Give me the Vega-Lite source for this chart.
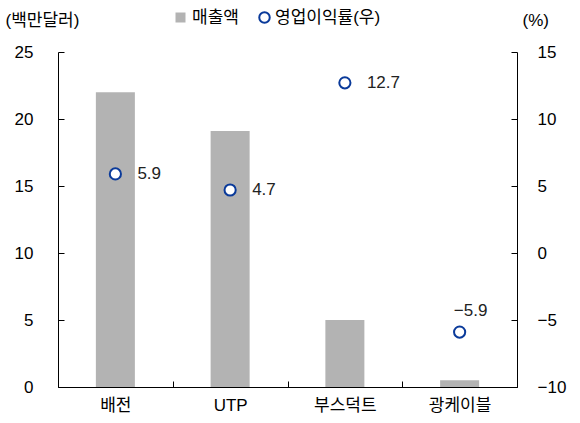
{
  "$schema": "https://vega.github.io/schema/vega-lite/v6.json",
  "width": 459,
  "height": 335,
  "autosize": {"type": "none"},
  "padding": {"left": 58, "top": 52, "right": 63, "bottom": 36},
  "background": "white",
  "config": {
    "view": {"stroke": null},
    "font": "Liberation Sans, Noto Sans CJK KR",
    "axis": {"labelFont": "Liberation Sans, Noto Sans CJK KR", "titleFont": "Liberation Sans, Noto Sans CJK KR", "labelFontSize": 17, "titleFontSize": 17, "titleFontWeight": "normal", "labelColor": "#000", "titleColor": "#000", "domainColor": "#000", "tickColor": "#000", "grid": false},
    "legend": {"labelFont": "Liberation Sans, Noto Sans CJK KR", "labelFontSize": 17, "labelColor": "#000"}
  },
  "data": {"values": [
    {"cat": "배전", "sales": 22, "margin": 5.9},
    {"cat": "UTP", "sales": 19.1, "margin": 4.7},
    {"cat": "부스덕트", "sales": 5, "margin": 12.7},
    {"cat": "광케이블", "sales": 0.5, "margin": -5.9}
  ]},
  "encoding": {
    "x": {"field": "cat", "type": "nominal", "sort": null,
      "scale": {"paddingInner": 0, "paddingOuter": 0},
      "axis": {"title": null, "labelAngle": 0, "tickBand": "extent", "tickSize": -6, "labelPadding": 16, "domainColor": "#000"}}
  },
  "layer": [
    {
      "mark": {"type": "bar", "width": {"band": 0.34}},
      "encoding": {
        "y": {"field": "sales", "type": "quantitative", "scale": {"domain": [0, 25]},
          "axis": {"values": [0, 5, 10, 15, 20, 25], "tickSize": -6, "labelPadding": 31, "title": "(백만달러)", "titleAngle": 0, "titleAlign": "left", "titleBaseline": "middle", "titleX": -53, "titleY": -32}},
        "color": {"datum": "매출액", "scale": {"range": ["#b3b3b3"]},
          "legend": {"title": null, "orient": "none", "legendX": 114, "legendY": -43, "symbolType": "square", "symbolSize": 100, "labelOffset": 3}}
      }
    },
    {
      "encoding": {
        "y": {"field": "margin", "type": "quantitative", "scale": {"domain": [-10, 15], "nice": false},
          "axis": {"orient": "right", "values": [-10, -5, 0, 5, 10, 15], "tickSize": -6, "labelPadding": 26, "title": "(%)", "titleAngle": 0, "titleAlign": "left", "titleBaseline": "middle", "titleX": 5, "titleY": -32}}
      },
      "layer": [
        {
          "mark": {"type": "point", "shape": "circle", "size": 125, "strokeWidth": 2, "fill": "white", "opacity": 1},
          "encoding": {
            "stroke": {"datum": "영업이익률(우)", "scale": {"range": ["#0a3a9a"]},
              "legend": {"title": null, "orient": "none", "legendX": 198, "legendY": -43, "symbolType": "circle", "symbolSize": 110, "symbolStrokeWidth": 2, "labelOffset": 2}}
          }
        },
        {
          "transform": [{"filter": "datum.margin >= 0"}],
          "mark": {"type": "text", "align": "left", "baseline": "middle", "dx": 22, "fontSize": 17, "font": "Liberation Sans", "color": "#222"},
          "encoding": {
            "text": {"field": "margin", "type": "quantitative", "format": ".1f"}
          }
        },
        {
          "transform": [{"filter": "datum.margin < 0"}],
          "mark": {"type": "text", "align": "center", "baseline": "middle", "dx": 11, "dy": -21, "fontSize": 17, "font": "Liberation Sans", "color": "#222"},
          "encoding": {
            "text": {"field": "margin", "type": "quantitative", "format": ".1f"}
          }
        }
      ]
    }
  ],
  "resolve": {"scale": {"y": "independent"}}
}
